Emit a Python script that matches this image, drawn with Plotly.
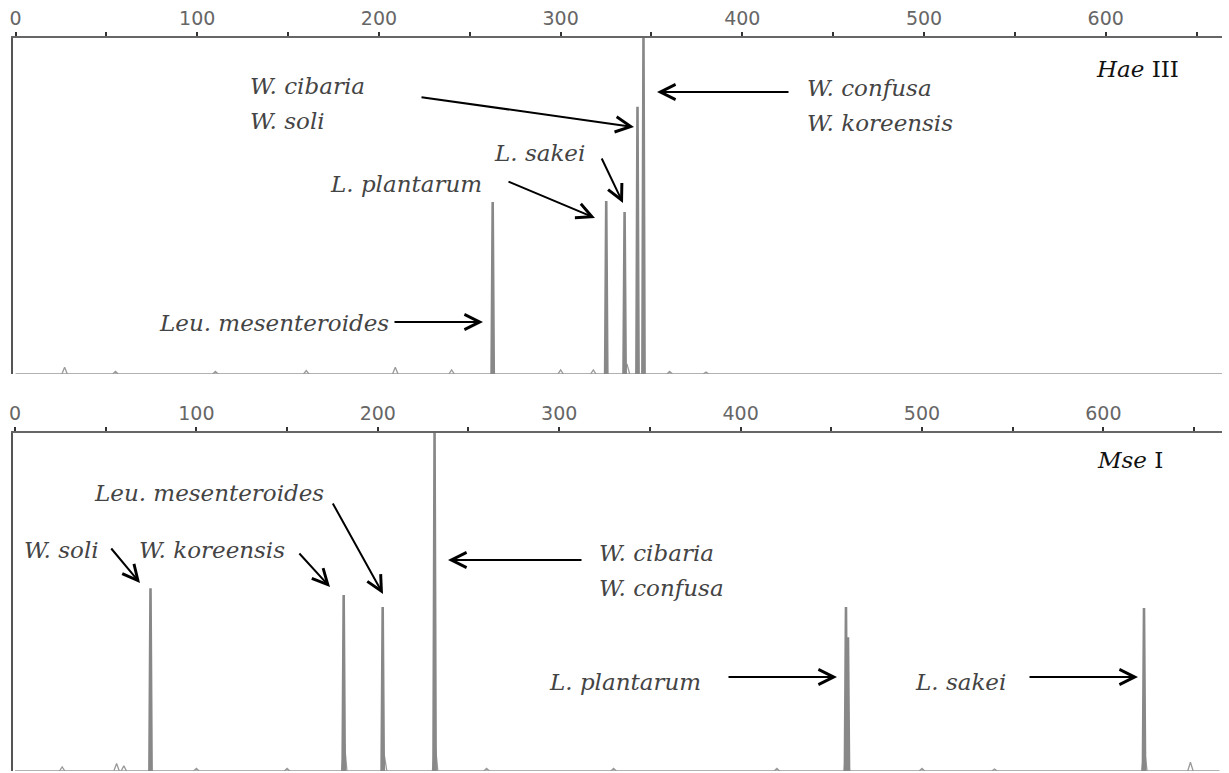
import plotly.graph_objects as go

# ---------------- data ----------------
# HaeIII panel: main fragment peaks (size in bp, relative height %)
HAE_SIZES = [262.6, 325.1, 335.2, 342.3, 345.6]
HAE_HEIGHTS = [51.2, 51.5, 48.2, 79.5, 100.0]
# HaeIII small baseline bumps
HAE_BUMP_SIZES = [27, 55, 110, 160, 209, 240, 300, 318, 336.5, 360, 380]
HAE_BUMP_HEIGHTS = [2.0, 0.8, 0.8, 1.0, 2.0, 1.2, 1.2, 1.2, 3.0, 0.8, 0.6]

# MseI panel
MSE_SIZES = [74.7, 181.2, 202.7, 231.3, 458.1, 459.2, 622.4]
MSE_HEIGHTS = [54.1, 52.1, 48.5, 100.0, 48.5, 39.6, 48.2]
MSE_BUMP_SIZES = [26, 56, 60, 100, 150, 181.5, 203.5, 231.6, 260, 330, 420, 458.6, 500, 540, 622.6, 648]
MSE_BUMP_HEIGHTS = [1.2, 2.2, 1.5, 0.8, 0.8, 9.0, 5.0, 8.5, 0.8, 0.8, 0.8, 11.5, 0.8, 0.6, 6.8, 2.6]

TICK_VALS = [0, 50, 100, 150, 200, 250, 300, 350, 400, 450, 500, 550, 600, 650]
TICK_TEXT = ["0", "", "100", "", "200", "", "300", "", "400", "", "500", "", "600", ""]

HAE_LABELS = ["W. cibaria", "W. soli", "L. sakei", "L. plantarum", "Leu. mesenteroides",
              "W. confusa", "W. koreensis"]
MSE_LABELS = ["Leu. mesenteroides", "W. soli", "W. koreensis", "W. cibaria", "W. confusa",
              "L. plantarum", "L. sakei"]

# ---------------- layout geometry ----------------
W, H = 1229, 773
ML, MR, MT, MB = 13, 7, 38, 2
PW, PH = W - ML - MR, H - MT - MB


def px(xp):
    return (xp - ML) / PW


def py(yp):
    return (H - MB - yp) / PH


TOP_DOMAIN = [py(374), 1.0]
BOT_DOMAIN = [0.0, py(433)]


def spikes(sizes, heights, halfw):
    xs, ys = [], []
    for s, h in zip(sizes, heights):
        xs += [s - halfw, s, s + halfw, None]
        ys += [0, h, 0, None]
    return xs, ys


fig = go.Figure()
GRAY = "#888888"

for sizes, heights, bs, bh, xa, ya in [
    (HAE_SIZES, HAE_HEIGHTS, HAE_BUMP_SIZES, HAE_BUMP_HEIGHTS, "x", "y"),
    (MSE_SIZES, MSE_HEIGHTS, MSE_BUMP_SIZES, MSE_BUMP_HEIGHTS, "x2", "y2"),
]:
    # baseline
    fig.add_trace(go.Scatter(x=[0, 664], y=[0, 0], mode="lines",
                             line=dict(color="#999", width=1.6),
                             xaxis=xa, yaxis=ya, showlegend=False, hoverinfo="skip"))
    bx, by = spikes(bs, bh, 1.5)
    fig.add_trace(go.Scatter(x=bx, y=by, mode="lines",
                             line=dict(color="#999", width=1.3),
                             xaxis=xa, yaxis=ya, showlegend=False, hoverinfo="skip"))
    sx, sy = spikes(sizes, heights, 0.6)
    fig.add_trace(go.Scatter(x=sx, y=sy, mode="lines",
                             line=dict(color=GRAY, width=2.6),
                             xaxis=xa, yaxis=ya, showlegend=False))

xaxis_common = dict(
    side="top", showline=True, linecolor="#666", linewidth=1.6,
    ticks="outside", ticklen=4, tickwidth=1.5, tickcolor="#333",
    tickvals=TICK_VALS, ticktext=TICK_TEXT,
    tickfont=dict(family="DejaVu Sans", size=19, color="#666"),
    showgrid=False, zeroline=False, mirror=False,
)
yaxis_common = dict(
    showline=True, linecolor="#555", linewidth=2, showticklabels=False,
    ticks="", showgrid=False, zeroline=False, range=[0, 100],
)

fig.update_layout(
    width=W, height=H,
    margin=dict(l=ML, r=MR, t=MT, b=MB),
    paper_bgcolor="white", plot_bgcolor="white",
    xaxis=dict(**xaxis_common, range=[-1.4, 664.0], anchor="y", domain=[0, 1]),
    yaxis=dict(**yaxis_common, domain=TOP_DOMAIN, anchor="x"),
    xaxis2=dict(**xaxis_common, range=[-1.1, 665.4], anchor="y2", domain=[0, 1]),
    yaxis2=dict(**yaxis_common, domain=BOT_DOMAIN, anchor="x2"),
)

TXT_FONT = dict(family="DejaVu Serif", size=23, color="#444")

# label positions (pixel, left edge / vertical centre)
hae_pos = [(248, 86), (248, 121), (492, 153), (328, 184), (157, 323), (805, 88), (805, 123)]
mse_pos = [(92, 493), (22, 550), (137, 550), (597, 553), (597, 588), (547, 682), (913, 682)]

annotations = []
for labels, pos in [(HAE_LABELS, hae_pos), (MSE_LABELS, mse_pos)]:
    for lab, (lx, ly) in zip(labels, pos):
        annotations.append(dict(
            text="<i>%s</i>" % lab, x=px(lx), y=py(ly), xref="paper", yref="paper",
            xanchor="left", yanchor="middle", showarrow=False, font=TXT_FONT))

annotations.append(dict(text="<i>Hae</i> III", x=px(1094), y=py(69), xref="paper", yref="paper",
                        xanchor="left", yanchor="middle", showarrow=False,
                        font=dict(family="DejaVu Serif", size=23, color="#111")))
annotations.append(dict(text="<i>Mse</i> I", x=px(1095), y=py(460), xref="paper", yref="paper",
                        xanchor="left", yanchor="middle", showarrow=False,
                        font=dict(family="DejaVu Serif", size=23, color="#111")))

# arrows: (head_x, head_y, tail_x, tail_y) in pixels
arrows = [
    (634, 127, 420, 97),
    (657, 92, 790, 92),
    (623, 203, 601, 157),
    (595, 218, 507, 181),
    (483, 322, 393, 322),
    (140, 583, 110, 547),
    (330, 587, 298, 552),
    (383, 594, 332, 502),
    (448, 560, 583, 560),
    (837, 677, 727, 677),
    (1138, 677, 1028, 677),
]
for hx, hy, tx, ty in arrows:
    annotations.append(dict(
        x=px(hx), y=py(hy), xref="paper", yref="paper",
        ax=tx - hx, ay=ty - hy, axref="pixel", ayref="pixel",
        text="", showarrow=True, arrowhead=5, arrowsize=1.5, arrowwidth=2,
        arrowcolor="#000", standoff=0, startstandoff=0))

fig.update_layout(annotations=annotations)

fig.write_html("out.html")
